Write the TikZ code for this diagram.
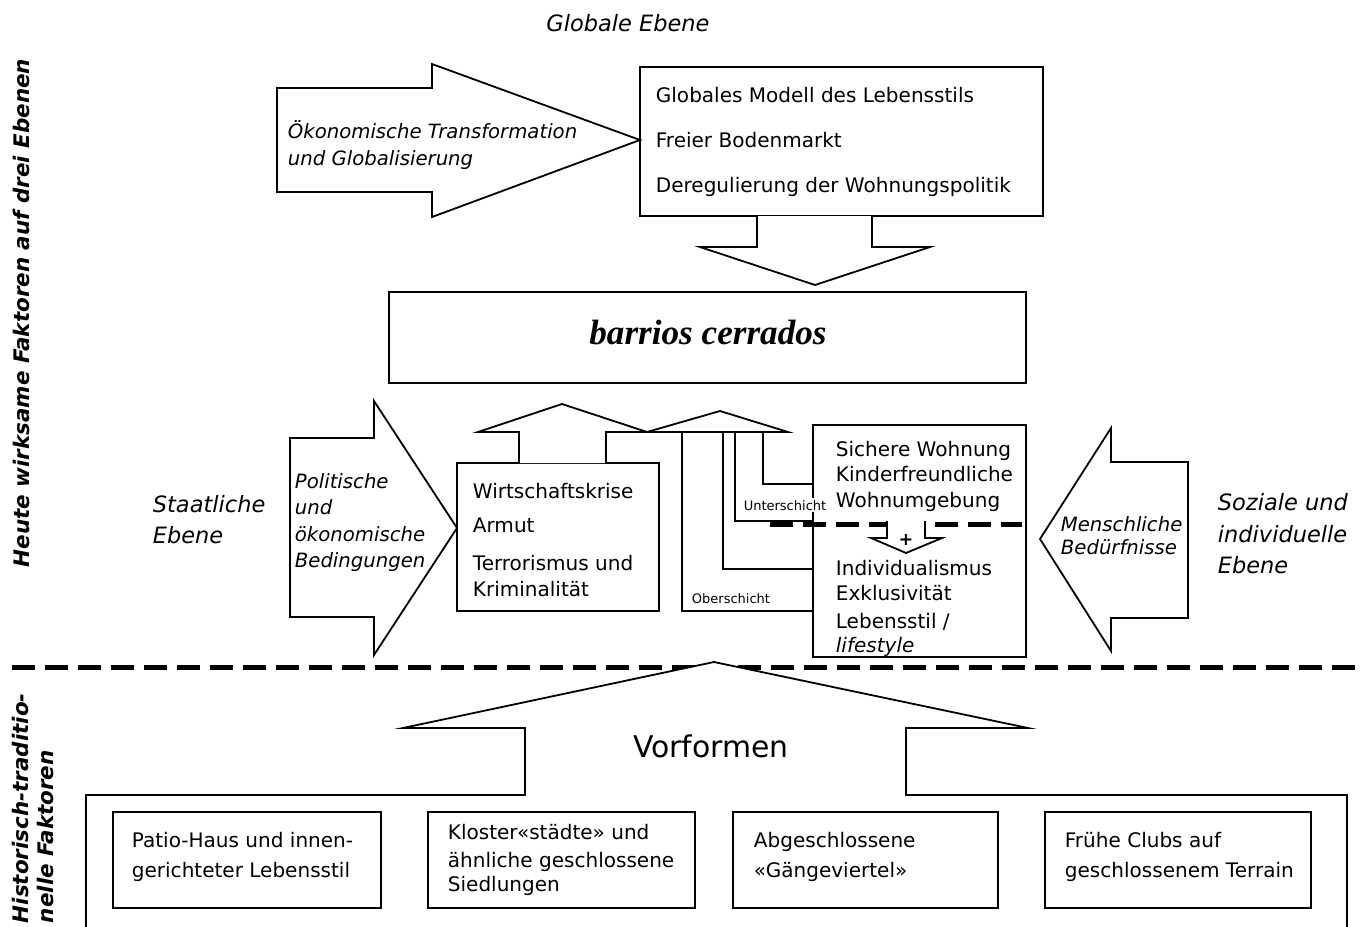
\documentclass[tikz,border=0pt]{standalone}
\usepackage{fontspec}
\setmainfont{DejaVu Sans}
\newfontfamily\barriosfont{Liberation Serif}
\begin{document}
\begin{tikzpicture}[x=0.02cm,y=-0.02cm,line width=0.036cm,
    txt/.style={anchor=base west,inner sep=0pt,font=\fontsize{11.4}{13.7}\selectfont},
    arrowtxt/.style={anchor=base west,inner sep=0pt,font=\fontsize{11.2}{13.5}\selectfont\itshape},
    leveltxt/.style={anchor=base west,inner sep=0pt,font=\fontsize{12.8}{15}\selectfont\itshape},
    smalltxt/.style={anchor=base,inner sep=1pt,fill=white,font=\fontsize{7.4}{9}\selectfont},
    sidetxt/.style={rotate=90,inner sep=0pt,font=\fontsize{12.2}{14.4}\selectfont\bfseries\itshape},
    blockarrow/.style={draw,fill=white,line join=miter},
    thickdash/.style={line width=0.1cm,dash pattern=on 0.46cm off 0.2cm}]
\useasboundingbox (0,0) rectangle (1367,927);

% Side labels
\node[sidetxt] (heute) at (22,313) {Heute wirksame Faktoren auf drei Ebenen};
\node[sidetxt,anchor=west,align=left] (hist) at (33,924) {Historisch-traditio-\\nelle Faktoren};

% Global level
\node[leveltxt,anchor=base] (globlvl) at (628,31) {Globale Ebene};

% Drawing arrow oekonomische transformation
\draw[blockarrow] (277,88) -- (432,88) -- (432,64) -- (640,140) -- (432,217) -- (432,192) -- (277,192) -- cycle;
\node[arrowtxt] (oek1) at (287,138) {Ökonomische Transformation};
\node[arrowtxt] (oek2) at (287,165) {und Globalisierung};

% Drawing box global factors
\draw (640,67) rectangle (1043,216);
\node[txt] (glob1) at (655,102) {Globales Modell des Lebensstils};
\node[txt] (glob2) at (655,147) {Freier Bodenmarkt};
\node[txt] (glob3) at (655,192) {Deregulierung der Wohnungspolitik};

% Drawing arrow down to barrios cerrados
\draw[blockarrow] (757,216) -- (757,247) -- (700,247) -- (815,285) -- (930,247) -- (872,247) -- (872,216);

% Drawing box barrios cerrados
\draw (389,292) rectangle (1026,383);
\node[font=\barriosfont\fontsize{20}{24}\selectfont\bfseries\itshape] (barrios) at (708,333) {barrios cerrados};

% State level
\node[leveltxt] (staat1) at (152,512) {Staatliche};
\node[leveltxt] (staat2) at (152,543) {Ebene};

% Drawing arrow politische bedingungen
\draw[blockarrow] (290,438) -- (374,438) -- (374,401) -- (457,528) -- (374,655) -- (374,617) -- (290,617) -- cycle;
\node[arrowtxt] (pol1) at (294,488) {Politische};
\node[arrowtxt] (pol2) at (294,514) {und};
\node[arrowtxt] (pol3) at (294,541) {ökonomische};
\node[arrowtxt] (pol4) at (294,567) {Bedingungen};

% Drawing box wirtschaftskrise
\draw (457,463) rectangle (659,611);
\node[txt] (krise1) at (472,498) {Wirtschaftskrise};
\node[txt] (krise2) at (472,532) {Armut};
\node[txt] (krise3) at (472,570) {Terrorismus und};
\node[txt] (krise4) at (472,596) {Kriminalität};

% Drawing arrows up to barrios cerrados
\draw[blockarrow] (519,463) -- (519,432) -- (478,432) -- (562,404) -- (647,432) -- (606,432) -- (606,463);
\draw[blockarrow] (647,432) -- (720,411) -- (788,432) -- cycle;

% Drawing connectors of the social strata
\coordinate (ober top) at (682,432);
\coordinate (ober end) at (813,611);
\coordinate (mitte top) at (723,432);
\coordinate (mitte end) at (813,569);
\coordinate (unter top) at (735,432);
\coordinate (unter end) at (813,521);
\coordinate (sicher top) at (763,432);
\coordinate (sicher end) at (813,484);
\draw (ober top) |- (ober end);
\draw (mitte top) |- (mitte end);
\draw (unter top) |- (unter end);
\draw (sicher top) |- (sicher end);

% Drawing box human needs
\draw (813,425) rectangle (1026,657);
\node[smalltxt] (unter) at (785,510) {Unterschicht};
\node[smalltxt] (ober) at (731,603) {Oberschicht};
\node[txt] (need1) at (835,456) {Sichere Wohnung};
\node[txt] (need2) at (835,481) {Kinderfreundliche};
\node[txt] (need3) at (835,507) {Wohnumgebung};
\draw[thickdash] (770,524) -- (1022,524);
\draw[blockarrow] (887,521) -- (887,538) -- (871,538) -- (906,553) -- (942,538) -- (925,538) -- (925,521);
\node[font=\fontsize{10}{12}\selectfont\bfseries] (plus) at (906,540) {+};
\node[txt] (need4) at (835,575) {Individualismus};
\node[txt] (need5) at (835,600) {Exklusivität};
\node[txt] (need6) at (835,628) {Lebensstil /};
\node[txt,font=\fontsize{11.4}{13.7}\selectfont\itshape] (need7) at (835,652) {lifestyle};

% Drawing arrow menschliche beduerfnisse
\draw[blockarrow] (1040,539) -- (1111,428) -- (1111,462) -- (1188,462) -- (1188,618) -- (1111,618) -- (1111,651) -- cycle;
\node[arrowtxt] (mensch1) at (1060,531) {Menschliche};
\node[arrowtxt] (mensch2) at (1060,554) {Bedürfnisse};

% Social level
\node[leveltxt] (soz1) at (1217,510) {Soziale und};
\node[leveltxt] (soz2) at (1217,542) {individuelle};
\node[leveltxt] (soz3) at (1217,573) {Ebene};

% Drawing dividing line
\draw[thickdash] (12,667) -- (1362,667);

% Drawing arrow vorformen
\draw[blockarrow] (86,927) -- (86,795) -- (525,795) -- (525,728) -- (403,728) -- (714,662) -- (1028,728) -- (906,728) -- (906,795) -- (1347,795) -- (1347,927);
\node[font=\fontsize{17}{20}\selectfont,anchor=base] (vorformen) at (711,757) {Vorformen};

% Drawing boxes of the historical forms
\draw (113,812) rectangle (381,908);
\node[txt] (patio1) at (131,847) {Patio-Haus und innen-};
\node[txt] (patio2) at (131,877) {gerichteter Lebensstil};
\draw (428,812) rectangle (695,908);
\node[txt] (kloster1) at (447,839) {Kloster«städte» und};
\node[txt] (kloster2) at (447,867) {ähnliche geschlossene};
\node[txt] (kloster3) at (447,891) {Siedlungen};
\draw (733,812) rectangle (998,908);
\node[txt] (gang1) at (753,847) {Abgeschlossene};
\node[txt] (gang2) at (753,877) {«Gängeviertel»};
\draw (1045,812) rectangle (1311,908);
\node[txt] (club1) at (1064,847) {Frühe Clubs auf};
\node[txt] (club2) at (1064,877) {geschlossenem Terrain};
\end{tikzpicture}
\end{document}
